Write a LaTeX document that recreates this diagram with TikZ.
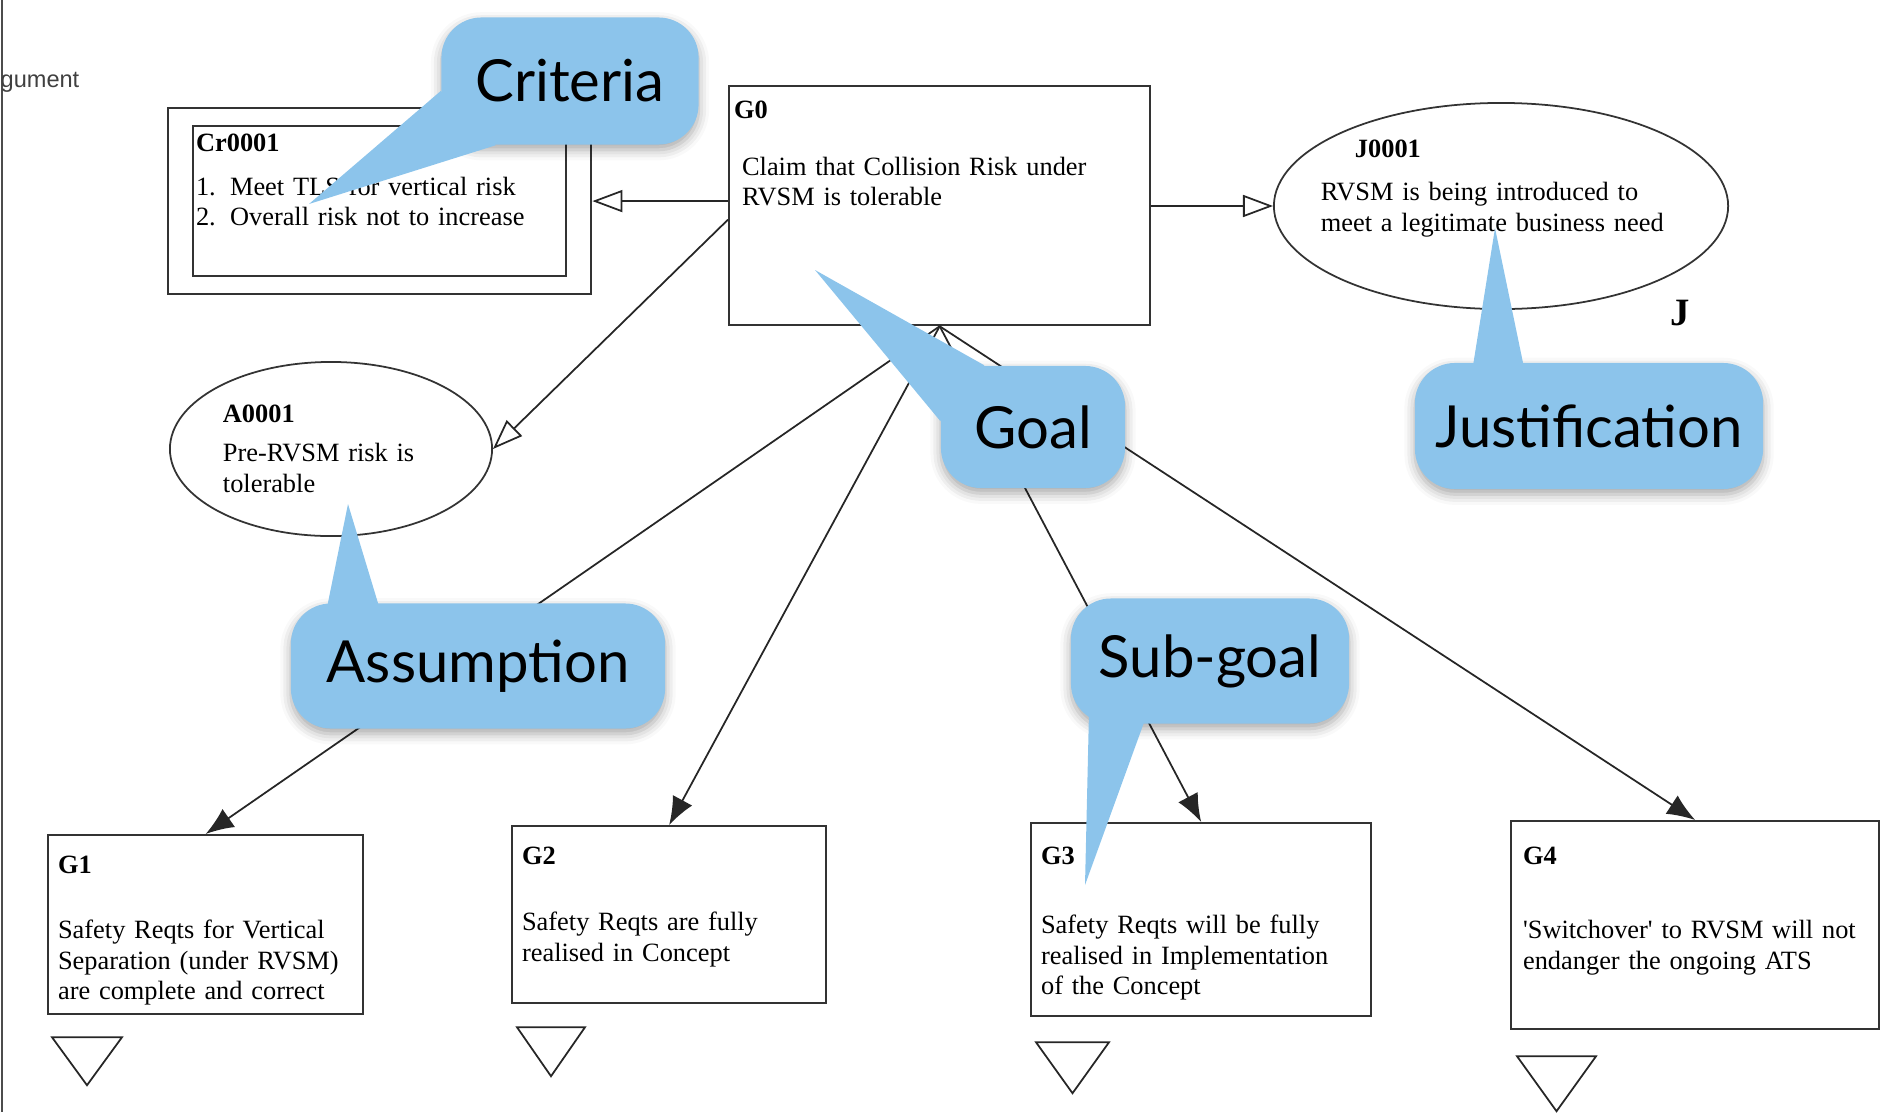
\documentclass[tikz,border=0pt]{standalone}
\usepackage{fontspec}
\setmainfont{Liberation Serif}
\newfontfamily\bubblefont{Lato}
\newfontfamily\notefont{Liberation Sans}
\usetikzlibrary{shapes.geometric, arrows.meta, positioning, fit, shadows.blur}
\definecolor{bubbleblue}{RGB}{140,196,235}
\newcommand{\gsnsize}{\fontsize{7.5}{8.8}\selectfont}
\tikzstyle{goal} = [rectangle, draw=black!80, line width=0.6pt, anchor=north west, align=left, inner ysep=0cm, font=\gsnsize]
\tikzstyle{context} = [rectangle, draw=black!80, line width=0.6pt]
\tikzstyle{assume} = [ellipse, draw=black!80, line width=0.5pt, align=left, inner sep=0cm, font=\gsnsize]
\tikzstyle{support} = [line width=0.5pt, draw=black!85, -{Latex[length=0.28cm, width=0.22cm]}]
\tikzstyle{incontext} = [line width=0.5pt, draw=black!85, -{Triangle[open, length=0.3cm, width=0.22cm]}]
\tikzstyle{undev} = [line width=0.5pt, draw=black!85]
\tikzstyle{bubble} = [rectangle, rounded corners=0.4cm, fill=bubbleblue, text=black, font=\bubblefont\fontsize{16.5}{20}\selectfont, blur shadow={shadow xshift=0pt, shadow yshift=-1.5pt, shadow blur radius=3pt, shadow opacity=35}]
\tikzstyle{bubbletail} = [fill=bubbleblue]

\begin{document}
\begin{tikzpicture}[x=0.01cm, y=-0.01cm]
  \useasboundingbox (0,0) rectangle (1880,1112);
  \draw [black!70, line width=0.6pt] (2,0) -- (2,1112);
  \node (arg) [anchor=base west, inner sep=0, font=\notefont\fontsize{6.7}{8}\selectfont, text=black!75] at (0,87) {gument};
  \node (g0) [goal, text width=4.11cm, inner xsep=0.05cm, text height=0.32cm, text depth=2.07cm] at (728,85) {\textbf{G0}\\[0.26cm]\hspace*{0.08cm}Claim that Collision Risk under\\\hspace*{0.08cm}RVSM is tolerable};
  \node (crin) [goal, text width=3.67cm, inner xsep=0.03cm, text height=0.25cm, text depth=1.25cm] at (192,125) {\textbf{Cr0001}\\[0.13cm]\makebox[0.34cm][l]{1.}Meet TLS for vertical risk\\\makebox[0.34cm][l]{2.}Overall risk not to increase};
  \node (cr) [context, fit=(crin), inner xsep=0.24cm, inner ysep=0.17cm] {};
  \node (j1) [assume, minimum width=4.54cm, minimum height=2.06cm, text width=3.6cm, inner xsep=-0.25cm, text height=0.22cm, text depth=1.18cm] at (1501,206) {\hspace*{0.34cm}\textbf{J0001}\\[0.12cm]RVSM is being introduced to\\meet a legitimate business need};
  \node (jtag) [inner sep=0, font=\bfseries\fontsize{11}{13}\selectfont] at (1680,313) {J};
  \node (a1) [assume, minimum width=3.22cm, minimum height=1.74cm, text width=2.16cm] at (331,449) {\textbf{A0001}\\[0.08cm]Pre-RVSM risk is\\tolerable};
  \node (g1) [goal, text width=2.95cm, inner xsep=0.1cm, text height=0.38cm, text depth=1.41cm] at (47,834) {\textbf{G1}\\[0.34cm]Safety Reqts for Vertical\\Separation (under RVSM)\\are complete and correct};
  \node (g2) [goal, text width=2.94cm, inner xsep=0.1cm, text height=0.38cm, text depth=1.39cm] at (511,825) {\textbf{G2}\\[0.35cm]Safety Reqts are fully\\realised in Concept};
  \node (g3) [goal, text width=3.2cm, inner xsep=0.1cm, text height=0.41cm, text depth=1.52cm] at (1030,822) {\textbf{G3}\\[0.38cm]Safety Reqts will be fully\\realised in Implementation\\of the Concept};
  \node (g4) [goal, text width=3.44cm, inner xsep=0.12cm, text height=0.43cm, text depth=1.65cm] at (1510,820) {\textbf{G4}\\[0.43cm]\textquotesingle Switchover\textquotesingle{} to RVSM will not\\endanger the ongoing ATS};
  \draw [incontext] (g0.west |- cr.east) -- (cr.east);
  \draw [incontext] (g0.east |- j1.west) -- (j1.west);
  \draw [incontext] ([yshift=-0.14cm]g0.west) -- (a1.east);
  \draw [support] (g0.south) -- (g1.north);
  \draw [support] (g0.south) -- (g2.north);
  \draw [support] (g0.south) -- (g3.north);
  \draw [support] (g0.south) -- (g4.north);
  \draw [undev] ([shift={(5,22)}]g1.south west) -- ++(70,0) -- ++(-35,48) -- cycle;
  \draw [undev] ([shift={(6,23)}]g2.south west) -- ++(68,0) -- ++(-34,49) -- cycle;
  \draw [undev] ([shift={(6,25)}]g3.south west) -- ++(73,0) -- ++(-36.5,51) -- cycle;
  \draw [undev] ([shift={(7,26)}]g4.south west) -- ++(79,0) -- ++(-39.5,55) -- cycle;
  %callouts
  \node (crit) [bubble, minimum width=2.57cm, minimum height=1.27cm] at (570,81) {Criteria};
  \fill [bubbletail] ([yshift=-0.1cm]crit.west) -- (309,204) -- ([xshift=0.55cm]crit.south west) -- cycle;
  \node (goalc) [bubble, minimum width=1.84cm, minimum height=1.22cm] at (1033,427) {Goal};
  \fill [bubbletail] ([xshift=0.44cm]goalc.north west) -- (815,270) -- ([yshift=0.06cm]goalc.west) -- cycle;
  \node (justc) [bubble, minimum width=3.48cm, minimum height=1.26cm] at (1589,426) {Justification};
  \fill [bubbletail] ([xshift=-1.17cm, yshift=-0.1cm]justc.north) -- (1495,228) -- ([xshift=-0.64cm, yshift=-0.1cm]justc.north) -- cycle;
  \node (assc) [bubble, minimum width=3.74cm, minimum height=1.25cm] at (478,666) {Assumption};
  \fill [bubbletail] ([xshift=-1.52cm, yshift=-0.1cm]assc.north) -- (348,504) -- ([xshift=-0.97cm, yshift=-0.1cm]assc.north) -- cycle;
  \node (subc) [bubble, minimum width=2.78cm, minimum height=1.25cm] at (1210,661) {Sub-goal};
  \fill [bubbletail] ([xshift=-1.21cm, yshift=0.1cm]subc.south) -- (1085,885) -- ([xshift=-0.63cm, yshift=0.1cm]subc.south) -- cycle;
\end{tikzpicture}
\end{document}
